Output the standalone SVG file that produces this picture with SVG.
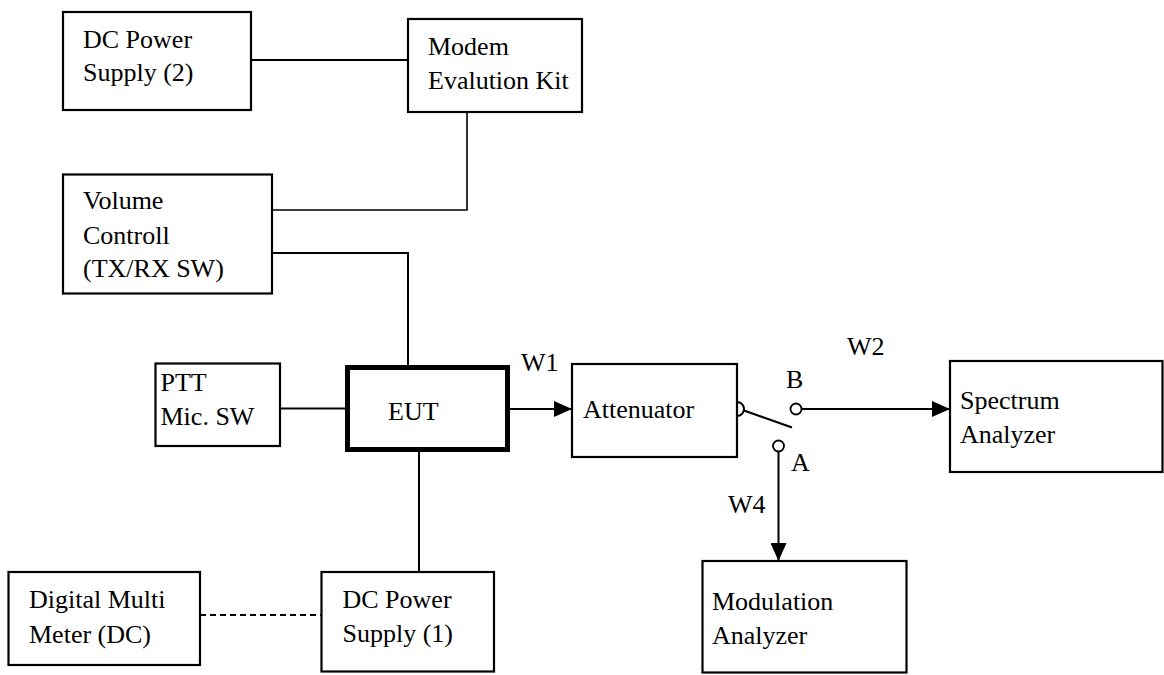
<svg xmlns="http://www.w3.org/2000/svg" width="1164" height="675" viewBox="0 0 1164 675">
<style>
.box{fill:#fff;stroke:#000;stroke-width:2.2}
.thick{fill:#fff;stroke:#000;stroke-width:5}
.ln{fill:none;stroke:#000;stroke-width:2}
.thin{fill:none;stroke:#000;stroke-width:1.6}
.term{fill:#fff;stroke:#000;stroke-width:1.8}
</style>
<defs>
<marker id="arr" markerWidth="18" markerHeight="16" refX="18" refY="8" orient="auto" markerUnits="userSpaceOnUse">
<path d="M0,0 L18,8 L0,16 Z" fill="#000"/>
</marker>
</defs>
<rect width="1164" height="675" fill="#fff"/>
<g font-family="Liberation Serif, DejaVu Serif, serif" font-size="26" fill="#000">
<g id="connectors">
<line class="ln" x1="251" y1="60" x2="408" y2="60"/>
<polyline class="thin" points="467,112 467,210 272,210"/>
<polyline class="ln" points="272,253 408,253 408,365"/>
<line class="ln" x1="280" y1="408.5" x2="345" y2="408.5"/>
<line class="ln" x1="510" y1="409" x2="572" y2="409" marker-end="url(#arr)"/>
<line class="ln" x1="419" y1="452" x2="419" y2="572"/>
<line class="ln" x1="200" y1="615" x2="321" y2="615" stroke-dasharray="6,4"/>
<path class="ln" d="M737,402 A7,7 0 0 1 737,416"/>
<line class="ln" x1="744" y1="410.5" x2="792" y2="427.5"/>
<line class="ln" x1="801.5" y1="409" x2="950" y2="409" marker-end="url(#arr)"/>
<line class="ln" x1="778.5" y1="451.5" x2="778.5" y2="561" marker-end="url(#arr)"/>
<circle class="term" cx="796" cy="409" r="5.5"/>
<circle class="term" cx="778.5" cy="446" r="5.5"/>
<text x="521" y="371">W1</text>
<text x="847" y="355">W2</text>
<text x="728" y="513">W4</text>
<text x="786" y="388">B</text>
<text x="791" y="471">A</text>
</g>
<g id="dcps2">
<rect class="box" x="63" y="12" width="188" height="98"/>
<text x="83" y="48">DC Power</text>
<text x="83" y="81">Supply (2)</text>
</g>
<g id="modem">
<rect class="box" x="408" y="19" width="174" height="93"/>
<text x="428" y="55">Modem</text>
<text x="428" y="89">Evalution Kit</text>
</g>
<g id="volume">
<rect class="box" x="63" y="174.5" width="209" height="119"/>
<text x="83" y="209">Volume</text>
<text x="83" y="244">Controll</text>
<text x="83" y="277">(TX/RX SW)</text>
</g>
<g id="ptt">
<rect class="box" x="155.5" y="363.5" width="124.5" height="82.5"/>
<text x="160.5" y="391">PTT</text>
<text x="160.5" y="425">Mic. SW</text>
</g>
<g id="eut">
<rect class="thick" x="347.5" y="367.5" width="160" height="82"/>
<text x="388" y="420">EUT</text>
</g>
<g id="attenuator">
<rect class="box" x="572" y="364" width="165" height="93"/>
<text x="583" y="418">Attenuator</text>
</g>
<g id="spectrum">
<rect class="box" x="950" y="361" width="212.5" height="111"/>
<text x="960" y="409">Spectrum</text>
<text x="960" y="443">Analyzer</text>
</g>
<g id="modulation">
<rect class="box" x="702.5" y="561" width="204" height="111.5"/>
<text x="712" y="610">Modulation</text>
<text x="712" y="644">Analyzer</text>
</g>
<g id="dmm">
<rect class="box" x="8.5" y="572" width="191.5" height="93"/>
<text x="29" y="608">Digital Multi</text>
<text x="29" y="643">Meter (DC)</text>
</g>
<g id="dcps1">
<rect class="box" x="321.5" y="572" width="172.5" height="99.5"/>
<text x="342.5" y="608">DC Power</text>
<text x="342.5" y="642">Supply (1)</text>
</g>
</g>
</svg>
